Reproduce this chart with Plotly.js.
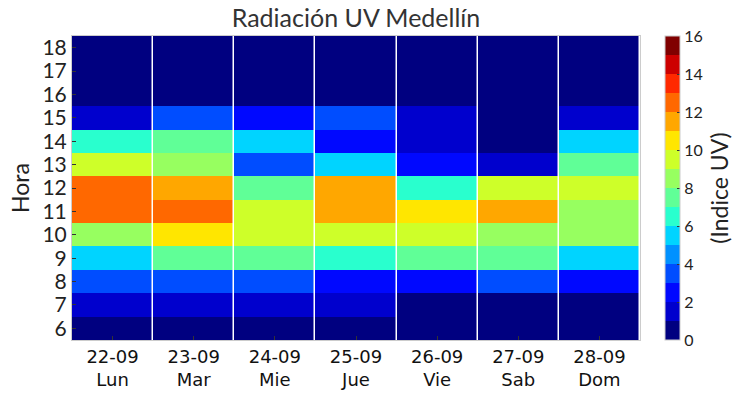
<!DOCTYPE html>
<html>
<head>
<meta charset="utf-8">
<script src="https://cdn.plot.ly/plotly-3.0.1.min.js"></script>
<style>html,body{margin:0;padding:0;background:#fff;}#chart{width:746px;height:395px;}</style>
</head>
<body>
<div id="chart"></div>
<script>
const fechas = ["22-09", "23-09", "24-09", "25-09", "26-09", "27-09", "28-09"];
const dias = ["Lun", "Mar", "Mie", "Jue", "Vie", "Sab", "Dom"];
const horas = [6, 7, 8, 9, 10, 11, 12, 13, 14, 15, 16, 17, 18];

// UV index per day, hours 6..18
const uvLun = [0.5, 1.5, 3.5, 5.5, 8.5, 12.5, 12.5, 9.5, 6.5, 1.5, 0.3, 0.2, 0.1];
const uvMar = [0.5, 1.5, 3.5, 7.5, 10.5, 12.5, 11.5, 8.5, 7.5, 3.5, 0.3, 0.2, 0.1];
const uvMie = [0.5, 1.5, 3.5, 7.5, 9.5, 9.5, 7.5, 3.5, 5.5, 2.5, 0.3, 0.2, 0.1];
const uvJue = [0.5, 1.5, 2.5, 6.5, 9.5, 11.5, 11.5, 5.5, 2.5, 3.5, 0.3, 0.2, 0.1];
const uvVie = [0.5, 0.5, 2.5, 7.5, 9.5, 10.5, 6.5, 2.5, 1.5, 1.5, 0.3, 0.2, 0.1];
const uvSab = [0.5, 0.5, 3.5, 7.5, 8.5, 11.5, 9.5, 1.5, 0.5, 0.5, 0.3, 0.2, 0.1];
const uvDom = [0.5, 0.5, 2.5, 5.5, 8.5, 8.5, 9.5, 7.5, 5.5, 1.5, 0.3, 0.2, 0.1];

const jetColors = ["#000080", "#0000cd", "#0008ff", "#004dff", "#0091ff", "#00d4ff", "#29ffce", "#60ff97",
                   "#97ff60", "#ceff29", "#ffe600", "#ffa700", "#ff6800", "#ff2900", "#cd0000", "#800000"];
const cbTicks = [0, 2, 4, 6, 8, 10, 12, 14, 16];

const series = [uvLun, uvMar, uvMie, uvJue, uvVie, uvSab, uvDom];
const xLabels = fechas.map((f, i) => f + "<br>" + dias[i]);
const z = horas.map((h, r) => series.map(s => s[r]));

const n = jetColors.length;
const colorscale = [];
jetColors.forEach((c, k) => { colorscale.push([k / n, c]); colorscale.push([(k + 1) / n, c]); });

const mainFont = "Lato, 'Open Sans', sans-serif";

Plotly.newPlot("chart", [{
  type: "heatmap",
  x: xLabels,
  y: horas,
  z: z,
  zmin: 0,
  zmax: 16,
  colorscale: colorscale,
  xgap: 1.5,
  hoverinfo: "skip",
  colorbar: {
    thickness: 15,
    len: 1,
    lenmode: "fraction",
    y: 0.5,
    yanchor: "middle",
    x: 1.044,
    xanchor: "left",
    xpad: 0,
    ypad: 0,
    outlinecolor: "#cccccc",
    outlinewidth: 1,
    tickvals: cbTicks,
    ticktext: cbTicks.map(String),
    ticks: "inside",
    ticklen: 3,
    tickcolor: "#333",
    tickfont: {family: mainFont, size: 16, color: "#222"},
    title: {text: "(Indice UV)", side: "right", font: {family: mainFont, size: 23, color: "#222"}}
  }
}], {
  width: 746,
  height: 395,
  margin: {l: 72, r: 106, t: 36, b: 55},
  paper_bgcolor: "#ffffff",
  plot_bgcolor: "#ffffff",
  title: {text: "Radiación UV Medellín", xref: "paper", x: 0.5, xanchor: "center", y: 0.975, yanchor: "top",
          font: {family: mainFont, size: 25, color: "#333"}},
  xaxis: {
    type: "category",
    showgrid: false,
    zeroline: false,
    showline: true,
    mirror: true,
    linecolor: "#cccccc",
    linewidth: 1,
    ticks: "inside",
    ticklen: 4,
    tickcolor: "#333",
    tickfont: {family: "'DejaVu Sans', sans-serif", size: 18, color: "#111"},
    fixedrange: true
  },
  yaxis: {
    range: [5.5, 18.5],
    tickvals: horas,
    ticktext: horas.map(String),
    showgrid: false,
    zeroline: false,
    showline: true,
    mirror: true,
    linecolor: "#cccccc",
    linewidth: 1,
    ticks: "inside",
    ticklen: 4,
    tickcolor: "#333",
    tickfont: {family: mainFont, size: 21, color: "#222"},
    title: {text: "Hora", standoff: 6, font: {family: mainFont, size: 23, color: "#222"}},
    fixedrange: true
  }
}, {displayModeBar: false, staticPlot: true});
</script>
</body>
</html>
